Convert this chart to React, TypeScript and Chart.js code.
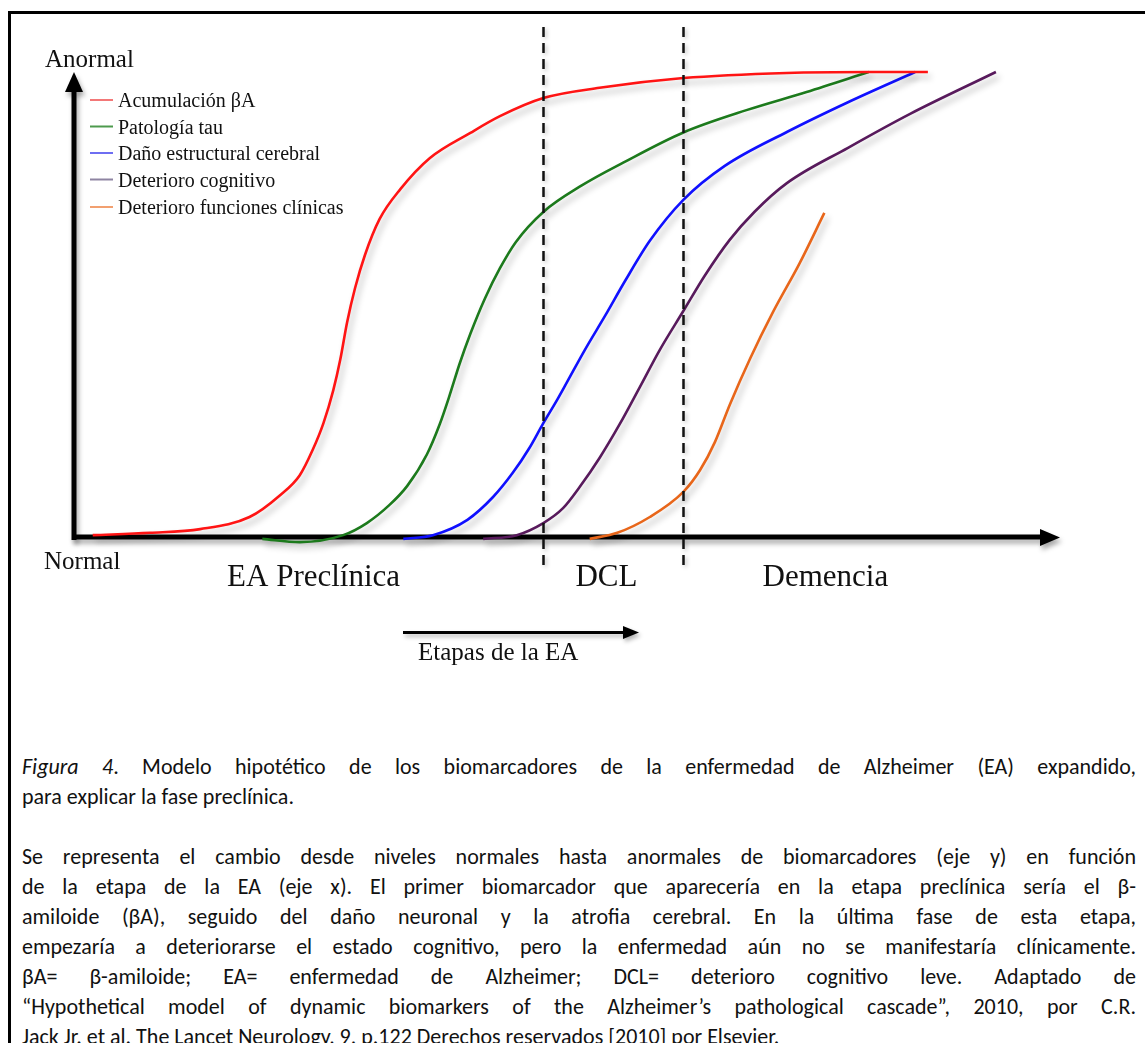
import React, { useEffect, useRef } from "react";
import { Chart, registerables } from "chart.js";

Chart.register(...registerables);

// ---- Data (x: disease stage 0..100, y: biomarker abnormality 0..100) ----
const seriesLabels = [
  "Acumulación βA",
  "Patología tau",
  "Daño estructural cerebral",
  "Deterioro cognitivo",
  "Deterioro funciones clínicas",
];
const lineColors = ["#ff1414", "#1c7a1c", "#1010ff", "#581a5c", "#e8661a"];
const legendColors = ["#f37878", "#4d9a4d", "#6e6ef2", "#8e84a2", "#f2a070"];

const amyloidX = [1.9, 7.7, 12.8, 17.8, 20.9, 22.9, 24.2, 25.3, 26.3, 27.0, 27.7, 28.5, 29.5, 31.0, 33.1, 36.1, 40.2, 43.2, 47.6, 53.3, 61.8, 72.3, 80.6, 86.6];
const amyloidY = [0.4, 0.9, 1.7, 4.3, 9.0, 13.3, 18.7, 24.5, 31.6, 38.1, 46.2, 53.5, 60.6, 68.4, 74.8, 81.5, 86.9, 90.5, 94.4, 96.6, 98.7, 99.8, 100, 100];

const tauX = [19.1, 22.9, 27.3, 29.7, 32.0, 33.8, 35.8, 37.1, 38.1, 39.1, 40.2, 41.7, 43.2, 44.8, 47.6, 51.5, 55.7, 61.8, 68.2, 74.3, 80.6];
const tauY = [-0.4, -1.1, 0.4, 3.0, 6.9, 11.0, 17.8, 24.3, 30.5, 37.2, 43.7, 51.4, 57.8, 63.4, 69.9, 75.6, 80.5, 87.0, 91.8, 95.7, 100];

const structX = [33.4, 36.4, 39.9, 42.5, 44.5, 46.2, 47.6, 49.0, 50.0, 51.8, 53.9, 55.9, 58.4, 61.8, 66.0, 72.3, 78.5, 85.3];
const structY = [-0.4, 0.4, 3.7, 8.6, 13.8, 19.2, 24.5, 29.5, 33.3, 40.2, 47.7, 55.1, 63.7, 72.5, 79.8, 87.1, 93.5, 100];

const cognitiveX = [41.5, 44.9, 47.6, 49.6, 51.3, 53.3, 55.3, 57.4, 59.4, 61.8, 64.0, 66.5, 69.0, 72.3, 78.5, 84.8, 93.5];
const cognitiveY = [-0.4, 0.4, 3.0, 6.2, 10.8, 17.0, 24.1, 32.3, 40.2, 48.6, 56.3, 63.9, 69.9, 76.1, 83.7, 91.0, 100];

const clinicalX = [52.3, 55.1, 58.4, 61.8, 63.5, 65.0, 66.5, 68.6, 70.9, 73.6, 76.1];
const clinicalY = [-0.4, 0.9, 4.3, 9.7, 14.4, 20.4, 28.4, 38.5, 48.4, 58.9, 69.7];

const seriesX = [amyloidX, tauX, structX, cognitiveX, clinicalX];
const seriesY = [amyloidY, tauY, structY, cognitiveY, clinicalY];

const stageBoundaries = [47.6, 61.8];
const stageLabels = ["EA Preclínica", "DCL", "Demencia"];
const stageLabelX = [24.3, 54.0, 76.2];

const yTopLabel = "Anormal";
const yBottomLabel = "Normal";
const stagesArrowLabel = "Etapas de la EA";

const captionPara1 = [
  "Modelo hipotético de los biomarcadores de la enfermedad de Alzheimer (EA) expandido,",
  "para explicar la fase preclínica.",
];
const captionPara2 = [
  "Se representa el cambio desde niveles normales hasta anormales de biomarcadores (eje y) en función",
  "de la etapa de la EA (eje x). El primer biomarcador que aparecería en la etapa preclínica sería el β-",
  "amiloide (βA), seguido del daño neuronal y la atrofia cerebral. En la última fase de esta etapa,",
  "empezaría a deteriorarse el estado cognitivo, pero la enfermedad aún no se manifestaría clínicamente.",
  "βA= β-amiloide; EA= enfermedad de Alzheimer; DCL= deterioro cognitivo leve. Adaptado de",
  "“Hypothetical model of dynamic biomarkers of the Alzheimer’s pathological cascade”, 2010, por C.R.",
  "Jack Jr. et al. The Lancet Neurology, 9, p.122 Derechos reservados [2010] por Elsevier.",
];

const W = 1145;
const H = 700;
const SERIF = '"Liberation Serif", "Times New Roman", serif';

const overlayPlugin = {
  id: "overlay",
  beforeDatasetsDraw(chart: any) {
    const ctx = chart.ctx;
    const xs = chart.scales.x;
    const ys = chart.scales.y;
    const x0 = xs.getPixelForValue(0);
    const y0 = ys.getPixelForValue(0);
    const yTop = ys.getPixelForValue(100);
    const xEnd = xs.getPixelForValue(100);
    ctx.save();
    ctx.fillStyle = "#000";
    ctx.shadowColor = "rgba(0,0,0,0.35)";
    ctx.shadowBlur = 5;
    ctx.shadowOffsetX = 2;
    ctx.shadowOffsetY = 4;
    // y axis
    ctx.fillRect(x0 - 2.5, yTop + 18, 5, y0 - yTop - 18 + 3);
    ctx.beginPath();
    ctx.moveTo(x0, yTop);
    ctx.lineTo(x0 + 9, yTop + 20);
    ctx.lineTo(x0 - 9, yTop + 20);
    ctx.closePath();
    ctx.fill();
    // x axis
    ctx.fillRect(x0 - 2, y0 - 2.5, xEnd - x0 - 18, 5);
    ctx.beginPath();
    ctx.moveTo(xEnd, y0 + 0.5);
    ctx.lineTo(xEnd - 20, y0 - 8);
    ctx.lineTo(xEnd - 20, y0 + 9);
    ctx.closePath();
    ctx.fill();
    ctx.restore();
  },
  beforeDatasetDraw(chart: any) {
    const ctx = chart.ctx;
    ctx.save();
    ctx.shadowColor = "rgba(0,0,0,0.28)";
    ctx.shadowBlur = 6;
    ctx.shadowOffsetX = 3;
    ctx.shadowOffsetY = 5;
  },
  afterDatasetDraw(chart: any) {
    chart.ctx.restore();
  },
  afterDatasetsDraw(chart: any) {
    const ctx = chart.ctx;
    const xs = chart.scales.x;
    ctx.save();
    ctx.strokeStyle = "#111";
    ctx.lineWidth = 2.5;
    ctx.setLineDash([10, 6]);
    ctx.shadowColor = "rgba(0,0,0,0.25)";
    ctx.shadowBlur = 4;
    ctx.shadowOffsetX = 2;
    ctx.shadowOffsetY = 2;
    stageBoundaries.forEach((v) => {
      const px = Math.round(xs.getPixelForValue(v)) + 0.5;
      ctx.beginPath();
      ctx.moveTo(px, 27);
      ctx.lineTo(px, 566);
      ctx.stroke();
    });
    ctx.restore();

    // texts
    ctx.save();
    ctx.fillStyle = "#111";
    ctx.textBaseline = "alphabetic";
    ctx.textAlign = "left";
    ctx.font = `25px ${SERIF}`;
    ctx.fillText(yTopLabel, 45, 67);
    ctx.fillText(yBottomLabel, 44, 569);

    // legend
    ctx.font = `20px ${SERIF}`;
    const rows = [107, 133.5, 160, 186.5, 214];
    seriesLabels.forEach((lab, i) => {
      ctx.strokeStyle = legendColors[i];
      ctx.lineWidth = 2;
      ctx.beginPath();
      ctx.moveTo(90, rows[i] - 7);
      ctx.lineTo(113, rows[i] - 7);
      ctx.stroke();
      ctx.fillStyle = "#111";
      ctx.fillText(lab, 118, rows[i]);
    });

    // stage labels
    ctx.font = `31px ${SERIF}`;
    ctx.textAlign = "center";
    stageLabels.forEach((lab, i) => {
      ctx.fillText(lab, xs.getPixelForValue(stageLabelX[i]), 586);
    });

    // stages arrow
    ctx.shadowColor = "rgba(0,0,0,0.3)";
    ctx.shadowBlur = 4;
    ctx.shadowOffsetX = 2;
    ctx.shadowOffsetY = 3;
    ctx.fillStyle = "#000";
    ctx.fillRect(403, 631, 222, 3);
    ctx.beginPath();
    ctx.moveTo(639, 632.5);
    ctx.lineTo(623, 626);
    ctx.lineTo(623, 639);
    ctx.closePath();
    ctx.fill();
    ctx.shadowColor = "transparent";
    ctx.fillStyle = "#111";
    ctx.textAlign = "left";
    ctx.font = `25px ${SERIF}`;
    ctx.fillText(stagesArrowLabel, 418, 660);
    ctx.restore();
  },
};

const captionFont = 'Carlito, Calibri, Lato, "Noto Sans", sans-serif';

function JustLine({ text, last, italicPrefix }: { text: string; last?: boolean; italicPrefix?: string }) {
  return (
    <div
      style={{
        textAlign: last ? "left" : "justify",
        textAlignLast: last ? "left" : "justify",
        whiteSpace: "nowrap",
        height: 30,
        lineHeight: "30px",
      }}
    >
      {italicPrefix ? (
        <>
          <i>{italicPrefix}</i>
          {". " + text}
        </>
      ) : (
        text
      )}
    </div>
  );
}

export default function App() {
  const canvasRef = useRef<HTMLCanvasElement | null>(null);

  useEffect(() => {
    const canvas = canvasRef.current;
    if (!canvas) return;
    const datasets = seriesLabels.map((label, i) => ({
      label,
      data: seriesX[i].map((x, j) => ({ x, y: seriesY[i][j] })),
      borderColor: lineColors[i],
      backgroundColor: lineColors[i],
      borderWidth: 2.6,
      pointRadius: 0,
      fill: false,
      cubicInterpolationMode: "monotone" as const,
      clip: false as any,
    }));
    const chart = new Chart(canvas, {
      type: "line",
      data: { datasets },
      options: {
        animation: false,
        responsive: false,
        devicePixelRatio: 1,
        layout: { padding: { left: 74, right: W - 1060, top: 72, bottom: H - 583.5 } },
        scales: {
          x: { type: "linear", min: 0, max: 100, display: false },
          y: { type: "linear", min: -10, max: 100, display: false },
        },
        plugins: { legend: { display: false }, tooltip: { enabled: false } },
        events: [],
      },
      plugins: [overlayPlugin],
    });
    return () => chart.destroy();
  }, []);

  return (
    <div style={{ position: "absolute", left: 0, top: 0, width: W, height: 1043, background: "#fff", overflow: "hidden" }}>
      <div
        style={{
          position: "absolute",
          left: 8,
          top: 11,
          width: W,
          height: 1100,
          borderTop: "3px solid #000",
          borderLeft: "3px solid #000",
          boxSizing: "border-box",
        }}
      />
      <canvas ref={canvasRef} width={W} height={H} style={{ position: "absolute", left: 0, top: 0, width: W, height: H }} />
      <div
        style={{
          position: "absolute",
          left: 22,
          top: 752,
          width: 1114,
          fontFamily: captionFont,
          fontSize: 22,
          color: "#111",
        }}
      >
        <JustLine italicPrefix="Figura 4" text={captionPara1[0]} />
        <JustLine text={captionPara1[1]} last />
        <div style={{ height: 30 }} />
        {captionPara2.map((t, i) => (
          <JustLine key={i} text={t} last={i === captionPara2.length - 1} />
        ))}
      </div>
    </div>
  );
}
